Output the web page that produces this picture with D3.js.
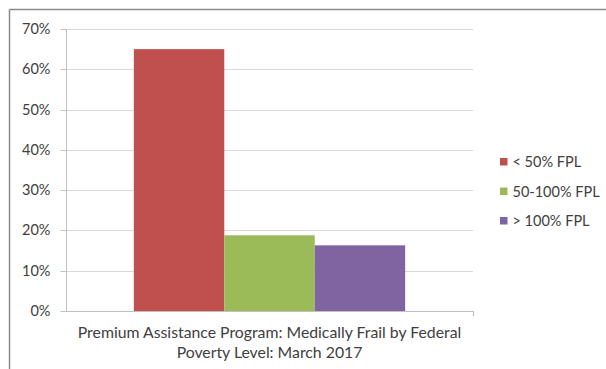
<!DOCTYPE html>
<html>
<head>
<meta charset="utf-8">
<script src="https://cdn.jsdelivr.net/npm/d3@7"></script>
<style>
  html, body { margin: 0; padding: 0; background: #fff; }
  svg { display: block; }
  text { font-family: Lato, "Open Sans", sans-serif; fill: #404040; }
</style>
</head>
<body>
<svg id="chart" width="606" height="369"></svg>
<script>
// Medically frail members of the Premium Assistance Program by poverty level
const categories = ["Premium Assistance Program: Medically Frail by Federal Poverty Level: March 2017"];
const seriesNames = ["< 50% FPL", "50-100% FPL", "> 100% FPL"];
const seriesValues = [0.65, 0.188, 0.163];
const seriesColors = ["#C0504D", "#9BBB59", "#8064A2"];
const yTicks = [0, 0.1, 0.2, 0.3, 0.4, 0.5, 0.6, 0.7];

const svg = d3.select("#chart");
const W = 606, H = 369;
const plot = { left: 66, right: 473, top: 29, bottom: 311 };
const fontSize = "14.5px";

// outer frame: top and left edges of the chart area
svg.append("line").attr("x1", 9.5).attr("x2", W).attr("y1", 9.5).attr("y2", 9.5)
  .attr("stroke", "#8a8a8a").attr("stroke-width", 1.5);
svg.append("line").attr("x1", 9.5).attr("x2", 9.5).attr("y1", 9.5).attr("y2", H)
  .attr("stroke", "#8a8a8a").attr("stroke-width", 1.5);

const y = d3.scaleLinear().domain([0, 0.7]).range([plot.bottom, plot.top]);
const x0 = d3.scaleBand().domain(categories).range([plot.left, plot.right]).paddingInner(0).paddingOuter(0);
// three bars fill ~2/3 of the category band (gap width 150%)
const barW = x0.bandwidth() / (seriesNames.length + 1.5);
const groupStart = x0(categories[0]) + (x0.bandwidth() - barW * seriesNames.length) / 2;
const x1 = d3.scaleBand().domain(seriesNames).range([groupStart, groupStart + barW * seriesNames.length]);

// horizontal gridlines
svg.append("g").selectAll("line").data(yTicks.filter(d => d > 0)).join("line")
  .attr("x1", plot.left).attr("x2", plot.right)
  .attr("y1", d => Math.round(y(d)) + 0.5).attr("y2", d => Math.round(y(d)) + 0.5)
  .attr("stroke", "#d9d9d9").attr("stroke-width", 1.2);

// y axis with percentage labels
const yAxis = d3.axisLeft(y).tickValues(yTicks).tickFormat(d3.format(".0%")).tickSize(6).tickPadding(10);
const gy = svg.append("g").attr("transform", `translate(${plot.left + 0.5},0)`).call(yAxis);
gy.select(".domain").attr("stroke", "#c0c0c0").attr("d", `M0,${plot.top}V${plot.bottom}`);
gy.selectAll(".tick line").attr("stroke", "#c0c0c0");
gy.selectAll(".tick text").style("font-size", fontSize).attr("fill", "#404040")
  .style("font-family", 'Lato, sans-serif');
gy.selectAll(".tick").attr("transform", d => `translate(0,${Math.round(y(d)) + 0.5})`);

// x axis baseline with end ticks
svg.append("line").attr("x1", plot.left).attr("x2", plot.right + 0.5)
  .attr("y1", plot.bottom + 0.5).attr("y2", plot.bottom + 0.5)
  .attr("stroke", "#c0c0c0").attr("stroke-width", 1.2);
svg.append("line").attr("x1", plot.right + 0.5).attr("x2", plot.right + 0.5)
  .attr("y1", plot.bottom).attr("y2", plot.bottom + 5)
  .attr("stroke", "#c0c0c0").attr("stroke-width", 1.2);

// bars
svg.append("g").selectAll("rect").data(seriesNames).join("rect")
  .attr("x", d => x1(d))
  .attr("width", x1.bandwidth())
  .attr("y", (d, i) => y(seriesValues[i]))
  .attr("height", (d, i) => plot.bottom - y(seriesValues[i]))
  .attr("fill", (d, i) => seriesColors[i]);

// category label, wrapped onto two lines
const labelLines = ["Premium Assistance Program: Medically Frail by Federal", "Poverty Level: March 2017"];
svg.append("text").attr("x", x0(categories[0]) + x0.bandwidth() / 2).attr("y", 338)
  .attr("text-anchor", "middle").style("font-size", "15.8px")
  .selectAll("tspan").data(labelLines).join("tspan")
  .attr("x", x0(categories[0]) + x0.bandwidth() / 2)
  .attr("dy", (d, i) => i === 0 ? 0 : 20)
  .text(d => d);

// legend
const legend = svg.append("g").attr("transform", "translate(500,0)");
const rows = legend.selectAll("g").data(seriesNames).join("g")
  .attr("transform", (d, i) => `translate(0,${162 + i * 29.5})`);
rows.append("rect").attr("x", 0).attr("y", -4).attr("width", 7.5).attr("height", 7.5)
  .attr("fill", (d, i) => seriesColors[i]);
rows.append("text").attr("x", 12.5).attr("y", 0).attr("dy", "0.35em")
  .style("font-size", fontSize).text(d => d);
</script>
</body>
</html>
